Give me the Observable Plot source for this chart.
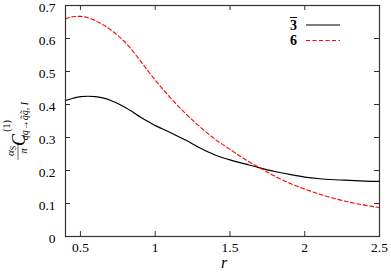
<!DOCTYPE html>
<html><head><meta charset="utf-8">
<script src="https://cdn.jsdelivr.net/npm/d3@7"></script>
<script src="https://cdn.jsdelivr.net/npm/@observablehq/plot@0.6"></script>
<style>body{margin:0;background:#fff}</style>
</head><body><div id="chart"></div>
<script>
const rValues = [0.40,0.45,0.50,0.55,0.60,0.65,0.70,0.75,0.80,0.85,0.90,0.95,1.00,1.05,1.10,1.20,1.30,1.40,1.50,1.60,1.70,1.80,1.90,2.00,2.10,2.20,2.30,2.40,2.50];
const series3bar = [0.412,0.419,0.424,0.425,0.424,0.420,0.413,0.403,0.391,0.377,0.362,0.349,0.336,0.326,0.315,0.293,0.268,0.247,0.232,0.220,0.208,0.197,0.188,0.180,0.175,0.172,0.170,0.168,0.167];
const series6 = [0.660,0.666,0.667,0.663,0.654,0.642,0.627,0.609,0.588,0.562,0.533,0.503,0.474,0.447,0.421,0.374,0.332,0.295,0.264,0.234,0.208,0.183,0.161,0.144,0.128,0.115,0.104,0.095,0.088];
const xTicks = [0.5,1,1.5,2,2.5];
const yTicks = [0,0.1,0.2,0.3,0.4,0.5,0.6,0.7];
const xTickLabels = ["0.5","1","1.5","2","2.5"];
const yTickLabels = ["0","0.1","0.2","0.3","0.4","0.5","0.6","0.7"];

const d3bar = rValues.map((r,i)=>({r, v: series3bar[i]}));
const d6 = rValues.map((r,i)=>({r, v: series6[i]}));

const W = 391, H = 273, mL = 65, mR = 12, mT = 5, mB = 37;
const pw = W - mL - mR, ph = H - mT - mB, tk = 5;
const frameColor = "#333";

const plot = Plot.plot({
  width: W, height: H,
  marginLeft: mL, marginRight: mR, marginTop: mT, marginBottom: mB,
  style: {fontFamily: "'Liberation Serif', serif", fontSize: "13.5px", background: "white", color: "black"},
  x: {domain: [0.4, 2.5], label: null},
  y: {domain: [0, 0.7], label: null},
  marks: [
    Plot.axisX(xTicks, {tickSize: 0, tickPadding: 6, tickFormat: d => xTickLabels[xTicks.indexOf(d)]}),
    Plot.axisY(yTicks, {tickSize: 0, tickPadding: 10, dy: 2.5, tickFormat: d => yTickLabels[yTicks.indexOf(d)]}),
    Plot.ruleX(xTicks, {insetTop: ph - tk, stroke: frameColor}),
    Plot.ruleX(xTicks, {insetBottom: ph - tk, stroke: frameColor}),
    Plot.ruleY(yTicks, {insetRight: pw - tk, stroke: frameColor}),
    Plot.ruleY(yTicks, {insetLeft: pw - tk, stroke: frameColor}),
    Plot.line(d3bar, {x: "r", y: "v", stroke: "black", strokeWidth: 1.2, curve: "monotone-x"}),
    Plot.line(d6, {x: "r", y: "v", stroke: "#ff0000", strokeWidth: 1.1, strokeDasharray: "4,2.5", curve: "monotone-x"}),
    Plot.frame({stroke: frameColor, strokeWidth: 1.2})
  ]
});
document.getElementById("chart").appendChild(plot);

const svg = d3.select(plot);
const font = "'Liberation Serif', serif";
// x label
svg.append("text").attr("x", 224).attr("y", 268).attr("text-anchor", "middle")
  .attr("font-family", font).attr("font-style", "italic").attr("font-size", 16).text("r");

// y label
const g = svg.append("g").attr("transform", "translate(17,120) rotate(-90)")
  .attr("font-family", font).attr("fill", "black");
const num = g.append("text").attr("x", -31).attr("y", -3).attr("text-anchor", "middle").attr("font-size", 11);
num.append("tspan").attr("font-style", "italic").text("α");
num.append("tspan").attr("font-size", 8).attr("dy", 1.5).text("S");
g.append("line").attr("x1", -40).attr("x2", -22).attr("y1", 1).attr("y2", 1).attr("stroke", "black").attr("stroke-width", 0.6);
g.append("text").attr("x", -31).attr("y", 10).attr("text-anchor", "middle").attr("font-size", 11).attr("font-style", "italic").text("π");
g.append("text").attr("x", -20).attr("y", 8).attr("font-size", 18).attr("font-style", "italic").text("C");
g.append("text").attr("x", -6).attr("y", -7).attr("font-size", 10).text("(1)");
g.append("text").attr("x", -1).attr("y", 11).attr("font-size", 10).attr("font-style", "italic").text("qq→q̃q̃, I");

// legend
const lg = svg.append("g").attr("font-family", font).attr("font-weight", "bold").attr("font-size", 14);
lg.append("text").attr("x", 297).attr("y", 30).attr("text-anchor", "end").text("3");
lg.append("line").attr("x1", 290).attr("x2", 297).attr("y1", 17.5).attr("y2", 17.5).attr("stroke", "black").attr("stroke-width", 1);
lg.append("text").attr("x", 297).attr("y", 45).attr("text-anchor", "end").text("6");
lg.append("line").attr("x1", 306).attr("x2", 340).attr("y1", 25).attr("y2", 25).attr("stroke", "black").attr("stroke-width", 1.2);
lg.append("line").attr("x1", 306).attr("x2", 340).attr("y1", 40.5).attr("y2", 40.5).attr("stroke", "#ff0000").attr("stroke-width", 1.1).attr("stroke-dasharray", "4,2.5");
</script>
</body></html>
